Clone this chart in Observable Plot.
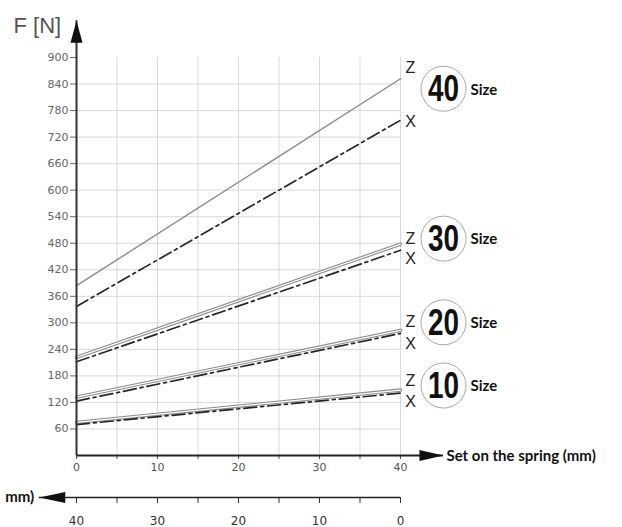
<!DOCTYPE html>
<html><head><meta charset="utf-8">
<script src="https://cdn.jsdelivr.net/npm/d3@7"></script>
<script src="https://cdn.jsdelivr.net/npm/@observablehq/plot@0.6"></script>
<style>body{margin:0;background:#fff} #chart svg{display:block}</style>
</head><body><div id="chart"></div>
<script>
// ---- data ----
const sizes  = [10, 20, 30, 40];
const zStart = [75, 132, 222, 384];
const zEnd   = [148, 283, 478, 852];
const xStart = [70, 123, 212, 337];
const xEnd   = [141, 276, 464, 758];
const setTicks = [0, 5, 10, 15, 20, 25, 30, 35, 40];
const forceTicks = [60, 120, 180, 240, 300, 360, 420, 480, 540, 600, 660, 720, 780, 840, 900];
const setMax = 40;
const forceMax = 900;
const yAxisTitle = "F [N]";
const xAxisTitle = "Set on the spring (mm)";
const lowerAxisTitle = "mm)";
const sizeWord = "Size";

// ---- layout (styling only) ----
const Y_TIP = 983, X_TIP = 45.3, LOW_TIP = -4.6, LOW_DY = 42;
const zLabelDy = {10: -9.5, 20: -8, 30: -5, 40: -11};
const xLabelDy = {10: 9, 20: 10, 30: 9, 40: 1.5};
const badgeDy  = {10: -4.5, 20: -8, 30: -5.5, 40: 10};

const lines = sizes.flatMap((s, i) => [
  {size: s, kind: "Z", set: 0, force: zStart[i]},
  {size: s, kind: "Z", set: setMax, force: zEnd[i]},
  {size: s, kind: "X", set: 0, force: xStart[i]},
  {size: s, kind: "X", set: setMax, force: xEnd[i]}
]);
const ends = sizes.map((s, i) => ({size: s, set: setMax, z: zEnd[i], x: xEnd[i]}));

const upHead = {draw(c) { c.moveTo(0, 0); c.lineTo(6, 22); c.lineTo(-6, 22); c.closePath(); }};
const rightHead = {draw(c) { c.moveTo(0, 0); c.lineTo(-24, -5.5); c.lineTo(-24, 5.5); c.closePath(); }};
const leftHead = {draw(c) { c.moveTo(0, 0); c.lineTo(26, -5.5); c.lineTo(26, 5.5); c.closePath(); }};

const TICKF = "DejaVu Sans, sans-serif";
const BOLDF = "Lato, 'Open Sans', sans-serif";
const NUMF = "'Liberation Sans', Arial, sans-serif";

const zBig = lines.filter(d => d.kind === "Z" && d.size === 40);
const zDouble = lines.filter(d => d.kind === "Z" && d.size !== 40);
const xLines = lines.filter(d => d.kind === "X");

const chart = Plot.plot({
  width: 622,
  height: 527,
  marginLeft: 76,
  marginRight: 222,
  marginTop: 57,
  marginBottom: 72,
  style: {background: "white"},
  x: {domain: [0, setMax]},
  y: {domain: [0, forceMax]},
  marks: [
    Plot.gridX(setTicks.filter(d => d > 0), {stroke: "#d9d9d9", strokeOpacity: 1}),
    Plot.gridY(forceTicks.filter(d => d < forceMax), {stroke: "#d9d9d9", strokeOpacity: 1}),
    Plot.line(zBig, {x: "set", y: "force", z: "size", stroke: "#8a8a8a", strokeWidth: 1.4}),
    Plot.line(zDouble, {x: "set", y: "force", z: "size", stroke: "#8a8a8a", strokeWidth: 3.4}),
    Plot.line(zDouble, {x: "set", y: "force", z: "size", stroke: "white", strokeWidth: 1.2}),
    Plot.line(xLines, {x: "set", y: "force", z: "size", stroke: "#262626", strokeWidth: 1.7, strokeDasharray: "13,4,3,4"}),
    // axes
    Plot.axisY(forceTicks, {tickSize: 6, tickPadding: 2, fontFamily: TICKF, fontSize: 11, color: "#666", label: null}),
    Plot.axisX(setTicks, {tickSize: 4, tickPadding: 4, fontFamily: TICKF, fontSize: 11, color: "#555",
      tickFormat: d => d % 10 === 0 ? String(d) : "", label: null}),
    Plot.axisX(setTicks, {dy: LOW_DY, tickSize: 6, tickPadding: 13, fontFamily: TICKF, fontSize: 12, color: "#333",
      tickFormat: d => d % 10 === 0 ? String(setMax - d) : "", label: null}),
    Plot.ruleX([0], {y1: 0, y2: Y_TIP, stroke: "#333", strokeWidth: 2}),
    Plot.ruleY([0], {x1: 0, x2: X_TIP, stroke: "#222", strokeWidth: 2}),
    Plot.ruleY([0], {x1: LOW_TIP, x2: setMax, dy: LOW_DY, stroke: "#222", strokeWidth: 1.5}),
    Plot.dot([{a: 0, b: Y_TIP}], {x: "a", y: "b", symbol: upHead, fill: "#111", stroke: "none"}),
    Plot.dot([{a: X_TIP, b: 0}], {x: "a", y: "b", symbol: rightHead, fill: "#111", stroke: "none"}),
    Plot.dot([{a: LOW_TIP, b: 0}], {x: "a", y: "b", dy: LOW_DY, symbol: leftHead, fill: "#111", stroke: "none"}),
    Plot.text([yAxisTitle], {x: () => 0, y: () => Y_TIP, text: d => d, dx: -63, dy: 5, textAnchor: "start",
      fontFamily: "Liberation Sans, Arial, sans-serif", fontSize: 22, fill: "#555"}),
    Plot.text([xAxisTitle], {x: () => X_TIP, y: () => 0, text: d => d, dx: 3, dy: 1, textAnchor: "start",
      fontFamily: BOLDF, fontWeight: "bold", fontSize: 15, fill: "#111"}),
    Plot.text([lowerAxisTitle], {x: () => LOW_TIP, y: () => 0, text: d => d, dx: -5, dy: LOW_DY, textAnchor: "end",
      fontFamily: BOLDF, fontWeight: "bold", fontSize: 15, fill: "#111"}),
    // right-hand labels
    ...ends.flatMap(d => [
      Plot.text([d], {x: "set", y: "z", text: () => "Z", dx: 10, dy: zLabelDy[d.size],
        fontFamily: "Liberation Sans, Arial, sans-serif", fontSize: 16, fill: "#222"}),
      Plot.text([d], {x: "set", y: "x", text: () => "X", dx: 10, dy: xLabelDy[d.size],
        fontFamily: "Liberation Sans, Arial, sans-serif", fontSize: 16, fill: "#222"}),
      Plot.dot([d], {x: "set", y: "z", dx: 43, dy: badgeDy[d.size], r: 22.5, stroke: "#a8a8a8", strokeWidth: 1, fill: "white"}),
      Plot.text([d], {x: "set", y: "z", text: e => String(e.size), dx: 43, dy: badgeDy[d.size] + 1, className: "badge-num",
        fontFamily: NUMF, fontWeight: "bold", fontSize: 36, fill: "#111"}),
      Plot.text([d], {x: "set", y: "z", text: () => sizeWord, dx: 70, dy: badgeDy[d.size] + 1, textAnchor: "start",
        fontFamily: BOLDF, fontWeight: "bold", fontSize: 15, fill: "#111"})
    ])
  ]
});
// condense the badge numbers (narrow bold face in the reference)
chart.querySelectorAll(".badge-num text").forEach(t => {
  t.setAttribute("textLength", 31);
  t.setAttribute("lengthAdjust", "spacingAndGlyphs");
});
document.getElementById("chart").appendChild(chart);
</script>
</body></html>
